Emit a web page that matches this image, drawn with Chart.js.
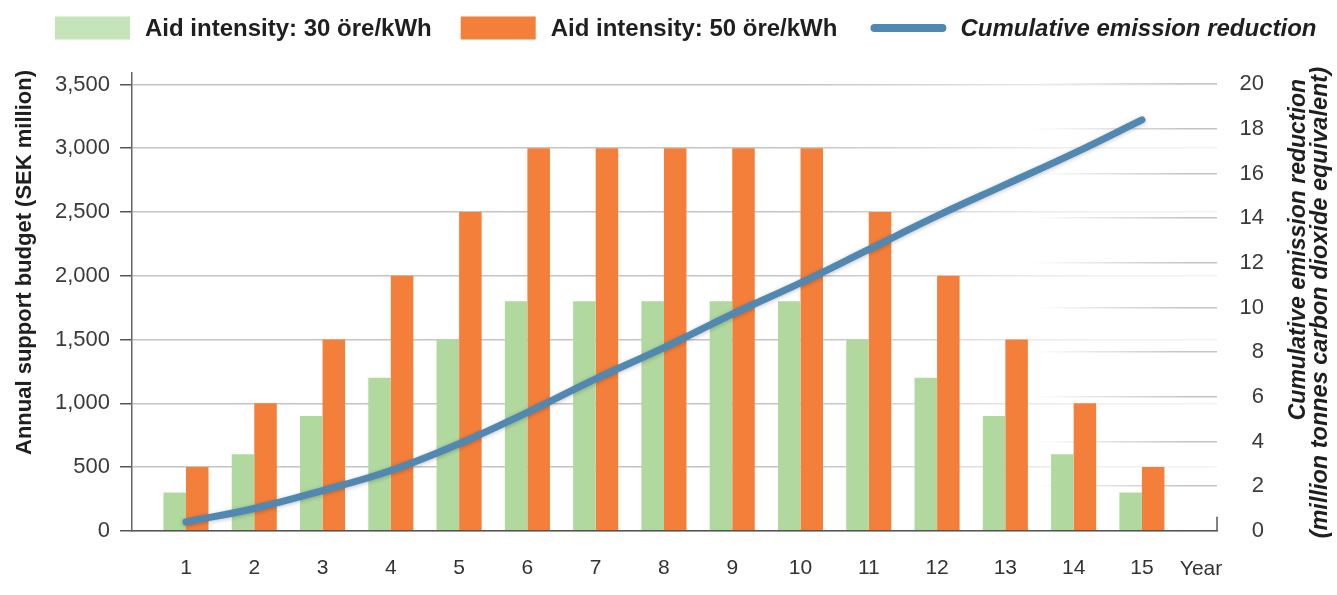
<!DOCTYPE html>
<html>
<head>
<meta charset="utf-8">
<script src="https://cdn.jsdelivr.net/npm/chart.js@4/dist/chart.umd.min.js"></script>
<style>
  html, body { margin: 0; padding: 0; background: #ffffff; }
  #wrap { width: 1337px; height: 595px; }
</style>
</head>
<body>
<div id="wrap"><canvas id="c" width="1337" height="595"></canvas></div>
<script>
// ---- data ----
const years = [1, 2, 3, 4, 5, 6, 7, 8, 9, 10, 11, 12, 13, 14, 15];
const aid30 = [300, 600, 900, 1200, 1500, 1800, 1800, 1800, 1800, 1800, 1500, 1200, 900, 600, 300];
const aid50 = [500, 1000, 1500, 2000, 2500, 3000, 3000, 3000, 3000, 3000, 2500, 2000, 1500, 1000, 500];
const emissions = [0.4, 1.0, 1.8, 2.7, 3.9, 5.3, 6.8, 8.2, 9.7, 11.1, 12.6, 14.1, 15.5, 16.9, 18.4];
const budgetTicks = [0, 500, 1000, 1500, 2000, 2500, 3000, 3500];
const emissionTicks = [0, 2, 4, 6, 8, 10, 12, 14, 16, 18, 20];
const seriesNames = ['Aid intensity: 30 öre/kWh', 'Aid intensity: 50 öre/kWh', 'Cumulative emission reduction'];
const leftTitle = 'Annual support budget (SEK million)';
const rightTitle = ['Cumulative emission reduction', '(million tonnes carbon dioxide equivalent)'];
const xEndLabel = 'Year';

// ---- styles ----
const GREEN = '#b0d89f';
const GREEN_LEGEND = '#c6e4ba';
const ORANGE = '#f47f3a';
const BLUE = '#5188b1';
const TEXT = '#1f1f1f';
const FONT = "'Liberation Sans', Arial, sans-serif";

Chart.defaults.font.family = FONT;
Chart.defaults.color = '#333';

function leftGridColor(ctx) {
  const area = ctx.chart.chartArea;
  if (!area) return '#c8c8c8';
  const g = ctx.chart.ctx.createLinearGradient(area.left, 0, area.right, 0);
  g.addColorStop(0, 'rgba(196,196,196,1)');
  g.addColorStop(0.62, 'rgba(196,196,196,1)');
  g.addColorStop(0.86, 'rgba(196,196,196,0.3)');
  g.addColorStop(1, 'rgba(196,196,196,0.2)');
  return g;
}
function rightGridColor(ctx) {
  const area = ctx.chart.chartArea;
  if (!area) return 'rgba(0,0,0,0)';
  const g = ctx.chart.ctx.createLinearGradient(area.left, 0, area.right, 0);
  g.addColorStop(0, 'rgba(196,196,196,0)');
  g.addColorStop(0.83, 'rgba(196,196,196,0)');
  g.addColorStop(0.97, 'rgba(196,196,196,1)');
  g.addColorStop(1, 'rgba(196,196,196,1)');
  return g;
}

const legendPlugin = {
  id: 'customLegend',
  afterDraw(chart) {
    const ctx = chart.ctx;
    const cy = 28;
    let x = 55;
    const items = [
      { kind: 'box', color: GREEN_LEGEND, text: seriesNames[0], font: 'bold 24px ' + FONT },
      { kind: 'box', color: ORANGE, text: seriesNames[1], font: 'bold 24px ' + FONT },
      { kind: 'line', color: BLUE, text: seriesNames[2], font: 'italic bold 24px ' + FONT }
    ];
    const gaps = [29, 33, 0];
    ctx.save();
    items.forEach((it, i) => {
      if (it.kind === 'box') {
        ctx.fillStyle = it.color;
        ctx.fillRect(x, cy - 11.5, 75, 23);
      } else {
        ctx.strokeStyle = it.color;
        ctx.lineWidth = 8;
        ctx.lineCap = 'round';
        ctx.beginPath();
        ctx.moveTo(x + 4, cy);
        ctx.lineTo(x + 72, cy);
        ctx.stroke();
      }
      x += 75 + 15;
      ctx.font = it.font;
      ctx.fillStyle = TEXT;
      ctx.textAlign = 'left';
      ctx.textBaseline = 'middle';
      ctx.fillText(it.text, x, cy + 1);
      x += ctx.measureText(it.text).width + gaps[i];
    });
    ctx.restore();
  }
};

const decorPlugin = {
  id: 'decor',
  afterDraw(chart) {
    const ctx = chart.ctx;
    const a = chart.chartArea;
    ctx.save();
    // small end tick at right of x axis
    ctx.strokeStyle = '#555';
    ctx.lineWidth = 1.5;
    ctx.beginPath();
    ctx.moveTo(a.right, a.bottom);
    ctx.lineTo(a.right, a.bottom - 14);
    ctx.stroke();
    // "Year" label
    ctx.fillStyle = '#333';
    ctx.font = '21px ' + FONT;
    ctx.textAlign = 'center';
    ctx.textBaseline = 'middle';
    ctx.fillText(xEndLabel, a.right - 16, 569);
    // left title
    ctx.fillStyle = TEXT;
    ctx.font = 'bold 22px ' + FONT;
    ctx.translate(25, 70);
    ctx.rotate(-Math.PI / 2);
    ctx.textAlign = 'right';
    ctx.fillText(leftTitle, 0, 0);
    ctx.restore();
    // right title
    ctx.save();
    ctx.fillStyle = TEXT;
    ctx.textAlign = 'right';
    ctx.textBaseline = 'middle';
    ctx.save();
    ctx.font = 'italic bold 23px ' + FONT;
    ctx.translate(1299, 79);
    ctx.rotate(-Math.PI / 2);
    ctx.fillText(rightTitle[0], 0, 0);
    ctx.restore();
    ctx.save();
    ctx.font = 'italic bold 23.5px ' + FONT;
    ctx.translate(1321, 67);
    ctx.rotate(-Math.PI / 2);
    ctx.fillText(rightTitle[1], 0, 0);
    ctx.restore();
    ctx.restore();
  }
};

const shadowPlugin = {
  id: 'lineShadow',
  beforeDatasetDraw(chart, args) {
    if (args.meta.type === 'line') {
      const ctx = chart.ctx;
      ctx.save();
      ctx.shadowColor = 'rgba(0,0,0,0.25)';
      ctx.shadowBlur = 4;
      ctx.shadowOffsetY = 1;
    }
  },
  afterDatasetDraw(chart, args) {
    if (args.meta.type === 'line') chart.ctx.restore();
  }
};

new Chart(document.getElementById('c'), {
  data: {
    datasets: [
      {
        type: 'line',
        label: seriesNames[2],
        data: years.map((y, i) => ({ x: y, y: emissions[i] })),
        yAxisID: 'y1',
        xAxisID: 'x',
        borderColor: BLUE,
        borderWidth: 7,
        borderCapStyle: 'round',
        borderJoinStyle: 'round',
        pointRadius: 0,
        tension: 0.4,
        order: 0
      },
      {
        type: 'bar',
        label: seriesNames[0],
        data: years.map((y, i) => ({ x: y, y: aid30[i] })),
        backgroundColor: GREEN,
        yAxisID: 'y',
        xAxisID: 'x',
        categoryPercentage: 0.66,
        barPercentage: 1,
        order: 1
      },
      {
        type: 'bar',
        label: seriesNames[1],
        data: years.map((y, i) => ({ x: y, y: aid50[i] })),
        backgroundColor: ORANGE,
        yAxisID: 'y',
        xAxisID: 'x',
        categoryPercentage: 0.66,
        barPercentage: 1,
        order: 1
      }
    ]
  },
  options: {
    responsive: false,
    animation: false,
    layout: { padding: { top: 73, left: 45, right: 73, bottom: -11 } },
    plugins: { legend: { display: false }, tooltip: { enabled: false } },
    scales: {
      x: {
        type: 'linear',
        offset: false,
        min: 0.21,
        max: 16.1,
        afterBuildTicks(scale) { scale.ticks = years.map(v => ({ value: v })); },
        grid: { display: false, drawTicks: false, offset: false },
        border: { display: true, color: '#555', width: 1.5 },
        ticks: { padding: 25, color: '#333', font: { size: 21 }, callback: v => String(v) }
      },
      y: {
        position: 'left',
        min: 0,
        max: 3590,
        afterBuildTicks(scale) { scale.ticks = budgetTicks.map(v => ({ value: v })); },
        ticks: { padding: 10, color: '#3a3a3a', font: { size: 22 }, callback: v => v.toLocaleString('en-US') },
        grid: { color: leftGridColor, lineWidth: 1.5, tickColor: '#555', tickLength: 12, tickWidth: 1.5 },
        border: { display: true, color: '#666', width: 1.5 }
      },
      y1: {
        position: 'right',
        min: 0,
        max: 20.5,
        afterBuildTicks(scale) { scale.ticks = emissionTicks.map(v => ({ value: v })); },
        ticks: { padding: 11.25, crossAlign: 'far', color: '#3a3a3a', font: { size: 22 }, callback: v => String(v) },
        grid: { color: rightGridColor, lineWidth: 1.5, drawTicks: false },
        border: { display: false }
      }
    }
  },
  plugins: [legendPlugin, decorPlugin, shadowPlugin]
});
</script>
</body>
</html>
